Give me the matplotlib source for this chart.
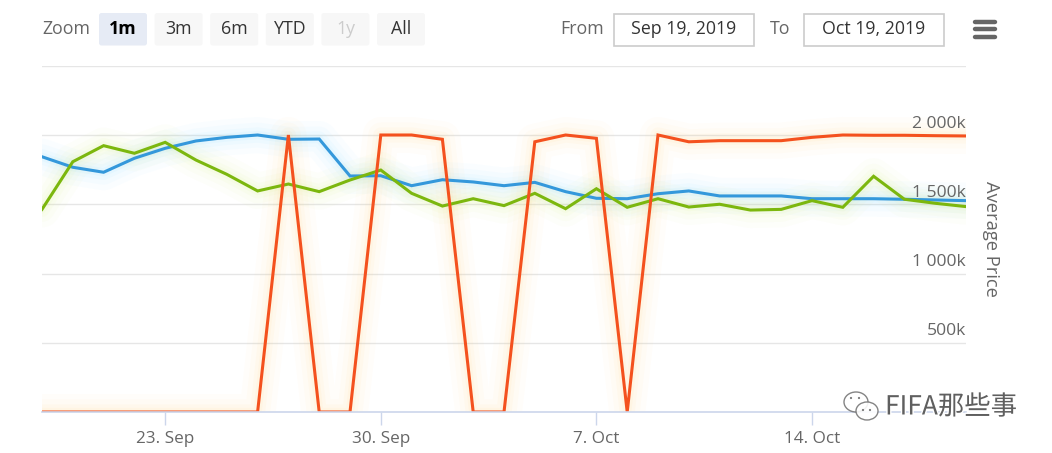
import matplotlib
matplotlib.use("Agg")
import matplotlib.pyplot as plt
import matplotlib.dates as mdates
from matplotlib.patches import FancyBboxPatch, Rectangle, Ellipse, Circle
import matplotlib.patheffects as pe
import numpy as np
import pandas as pd

# ---------------- data ----------------
start_date = "2019-09-19"
end_date = "2019-10-19"
dates = pd.date_range(start_date, end_date, freq="D")

blue_values = [1843, 1767, 1731, 1832, 1904, 1957, 1983, 2000, 1969, 1971,
               1704, 1706, 1634, 1677, 1661, 1634, 1658, 1591, 1543, 1540,
               1576, 1596, 1560, 1560, 1560, 1540, 1540, 1540, 1536, 1531, 1526]
green_values = [1463, 1807, 1923, 1868, 1947, 1819, 1716, 1596, 1646, 1591,
                1675, 1747, 1579, 1487, 1540, 1490, 1579, 1468, 1612, 1478,
                1540, 1480, 1500, 1458, 1463, 1526, 1478, 1702, 1536, 1507, 1483]
red_values = [0, 0, 0, 0, 0, 0, 0, 0, 2000, 0,
              0, 2000, 2000, 1969, 0, 0, 1951, 2000, 1976, 0,
              2000, 1951, 1959, 1959, 1959, 1983, 2000, 1998, 1998, 1995, 1993]

x_ticks = ["2019-09-23", "2019-09-30", "2019-10-07", "2019-10-14"]
x_tick_labels = ["23. Sep", "30. Sep", "7. Oct", "14. Oct"]
y_ticks = [500, 1000, 1500, 2000, 2500]
y_tick_labels = ["500k", "1 000k", "1 500k", "2 000k", ""]
y_title = "Average Price"

zoom_buttons = ["1m", "3m", "6m", "YTD", "1y", "All"]
from_text = "Sep 19, 2019"
to_text = "Oct 19, 2019"
watermark = "FIFA那些事"

# ---------------- figure ----------------
W, H = 1052, 453
FONT = ["Open Sans", "DejaVu Sans"]
plt.rcParams["font.family"] = FONT
fig = plt.figure(figsize=(W / 100, H / 100), dpi=100)
fig.patch.set_facecolor("white")

L, R, T, B = 42, 966, 65.75, 412
ax = fig.add_axes([L / W, 1 - B / H, (R - L) / W, (B - T) / H])
ax.set_facecolor("white")

series = [
    (blue_values, "#3498db", "#7fdcff"),
    (green_values, "#7cb70e", "#d8f07a"),
    (red_values, "#f4511e", "#ffd27a"),
]
for vals, col, glow in series:
    for w, a in [(26, 0.035), (18, 0.045), (11, 0.06), (6, 0.08)]:
        ax.plot(dates, vals, color=glow, lw=w, alpha=a, solid_joinstyle="round",
                solid_capstyle="round", zorder=2)
for vals, col, glow in series:
    ax.plot(dates, vals, color=col, lw=2.2, solid_joinstyle="miter", zorder=3)

ax.set_xlim(pd.Timestamp(start_date), pd.Timestamp(end_date))
ax.set_ylim(0, 2500)

for s in ["top", "left", "right"]:
    ax.spines[s].set_visible(False)
ax.spines["bottom"].set_color("#ccd6eb")
ax.spines["bottom"].set_linewidth(1.2)
ax.spines["bottom"].set_zorder(4)

ax.set_yticks(y_ticks)
ax.yaxis.set_tick_params(length=0, labelleft=False)
ax.grid(axis="y", color="#e6e6e6", lw=1.0, zorder=0)
ax.set_axisbelow(True)

ax.set_xticks([pd.Timestamp(t) for t in x_ticks])
ax.set_xticklabels(x_tick_labels)
ax.tick_params(axis="x", length=9, width=1, color="#ccd6eb", pad=5,
               labelsize=12.3, labelcolor="#666666")

for yv, lab in zip(y_ticks, y_tick_labels):
    if lab:
        ax.annotate(lab, xy=(1.0, yv), xycoords=("axes fraction", "data"),
                    xytext=(0, 2.5), textcoords="offset points",
                    ha="right", va="bottom", fontsize=12.6, color="#666666", zorder=5)

fig.text(991 / W, 1 - 239 / H, y_title, rotation=-90, ha="center", va="center",
         fontsize=13.2, color="#666666")

# ---------------- overlay (pixel coordinates) ----------------
ov = fig.add_axes([0, 0, 1, 1])
ov.set_xlim(0, W)
ov.set_ylim(H, 0)
ov.axis("off")
ov.patch.set_alpha(0)

TS = 12.8
ov.text(42, 29, "Zoom", ha="left", va="center", fontsize=TS, color="#666666")
bx0, bstep, bw, by0, bh = 99, 55.6, 48, 13, 32.5
for i, lab in enumerate(zoom_buttons):
    x0 = bx0 + i * bstep
    face = "#e6ebf5" if i == 0 else "#f7f7f7"
    ov.add_patch(FancyBboxPatch((x0, by0), bw, bh,
                                boxstyle="round,pad=0,rounding_size=2.5",
                                fc=face, ec="none"))
    col = "#cccccc" if lab == "1y" else "#333333"
    weight = "bold" if i == 0 else "normal"
    ov.text(x0 + bw / 2, by0 + bh / 2, lab, ha="center", va="center",
            fontsize=TS, color="#000000" if i == 0 else col, fontweight=weight)

ov.text(560, 29, "From", ha="left", va="center", fontsize=TS, color="#666666")
ov.add_patch(Rectangle((614, 13.5), 139.5, 32, fc="white", ec="#cccccc", lw=1.2))
ov.text(614 + 139.5 / 2, 29, from_text, ha="center", va="center", fontsize=TS,
        color="#333333")
ov.text(770, 29, "To", ha="left", va="center", fontsize=TS, color="#666666")
ov.add_patch(Rectangle((804, 13.5), 139.5, 32, fc="white", ec="#cccccc", lw=1.2))
ov.text(804 + 139.5 / 2, 29, to_text, ha="center", va="center", fontsize=TS,
        color="#333333")
for yy in [21.7, 29.3, 37.0]:
    ov.plot([975, 995], [yy, yy], color="#666666", lw=3.2, solid_capstyle="round")

# watermark: wechat-like icon + text
ov.add_patch(Ellipse((856, 402), 24, 20, fc="white", ec="#777777", lw=1.0, alpha=0.9))
ov.add_patch(Ellipse((867, 411), 22, 18, fc="white", ec="#777777", lw=1.0, alpha=0.9))
for cx, cy in [(851, 398), (859, 398), (863, 410), (870, 410)]:
    ov.add_patch(Circle((cx, cy), 1.1, fc="#777777", ec="none"))
ov.text(885, 407, watermark, ha="left", va="center", fontsize=19,
        family=["Noto Sans CJK SC", "DejaVu Sans"], color="#5f5f5f",
        path_effects=[pe.withStroke(linewidth=2, foreground="white")])

fig.savefig("out.png", dpi=100, facecolor="white")
